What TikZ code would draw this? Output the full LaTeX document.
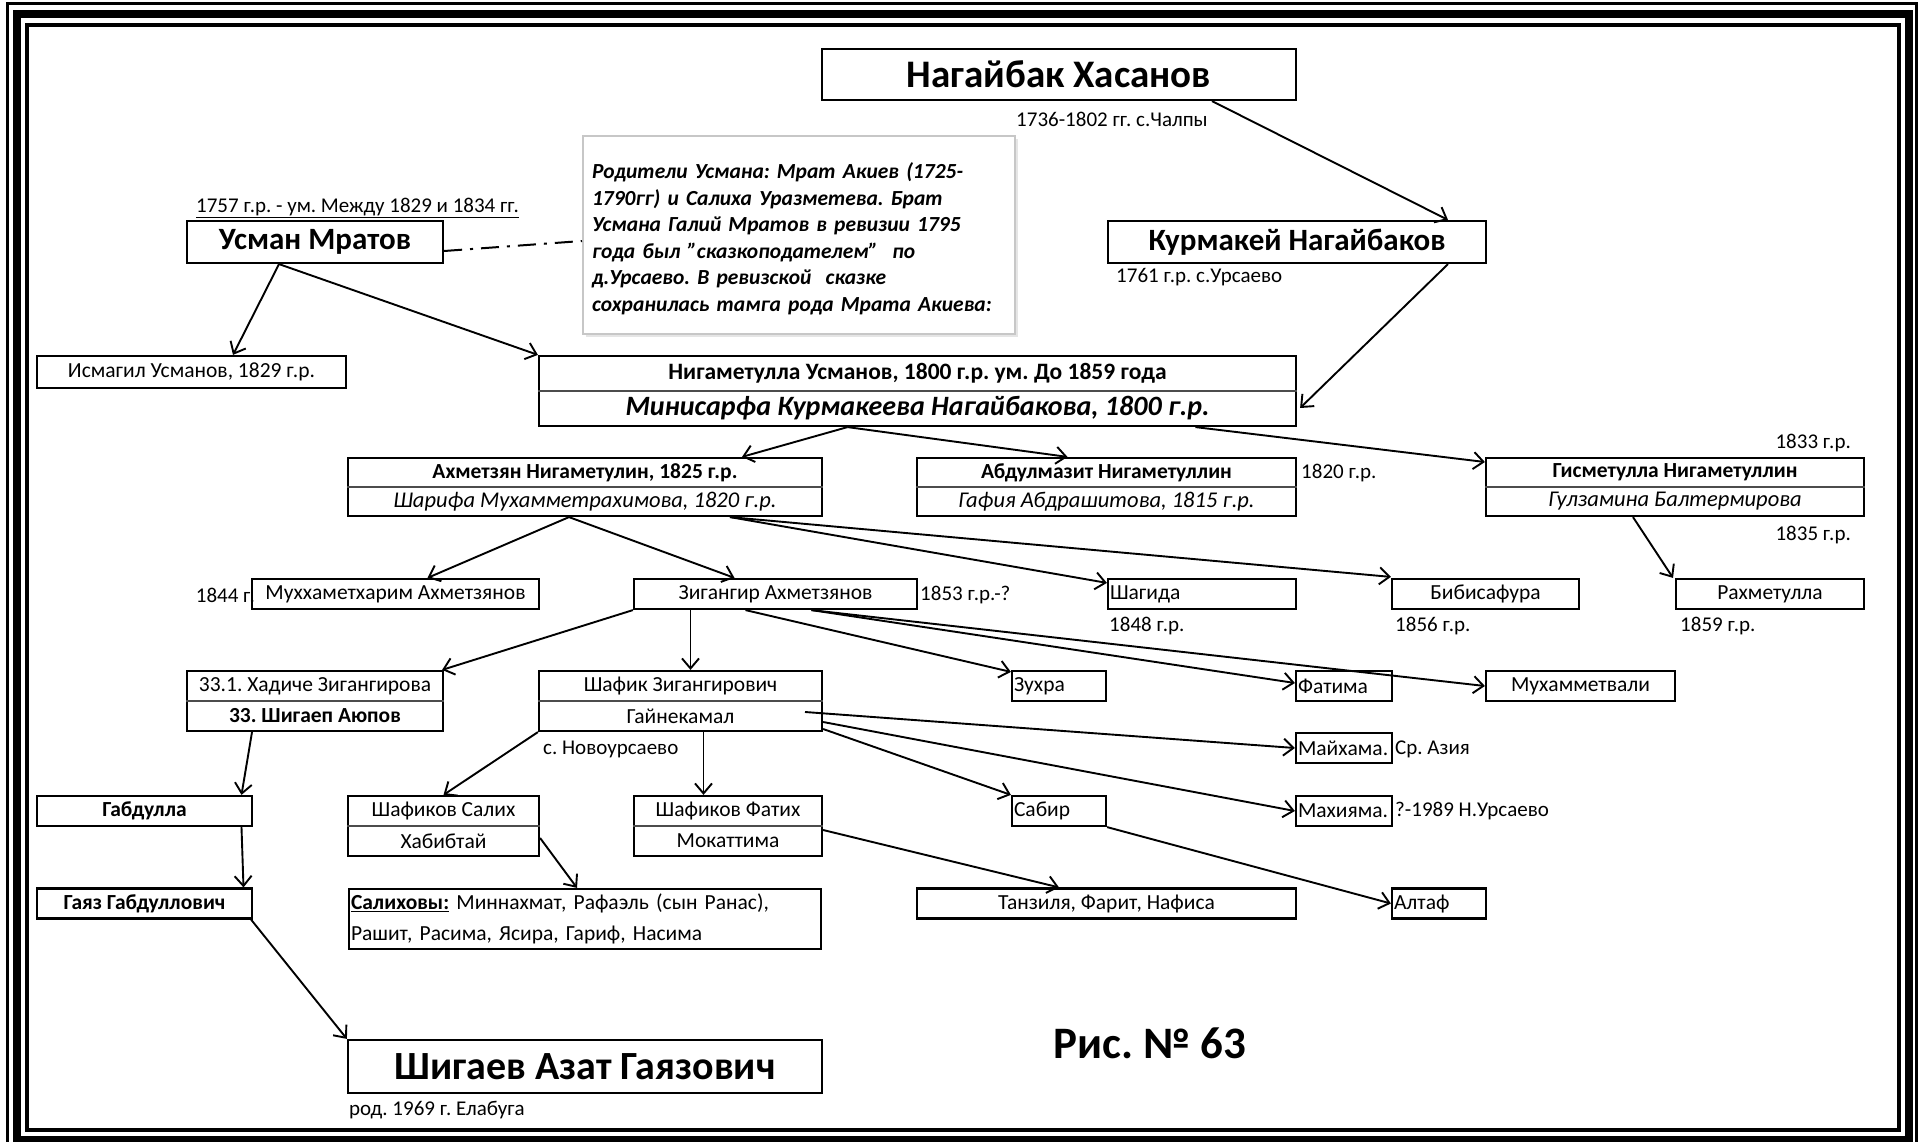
\documentclass[tikz,border=0pt]{standalone}
\usepackage{fontspec}
\setmainfont{Carlito}
\usetikzlibrary{positioning,arrows.meta,shadows}
\frenchspacing

\begin{document}
\begin{tikzpicture}[x=1pt,y=-1pt,
  box/.style={draw,line width=2.2pt,inner sep=0pt,font=\fontsize{21.5}{25}\selectfont},
  lbox/.style={box,align=left,inner xsep=2pt},
  divider/.style={line width=1.2pt,black!70},
  arr/.style={line width=1.9pt,-{Straight Barb[length=10pt,width=17pt]}},
  lab/.style={inner sep=0pt,font=\fontsize{21}{25}\selectfont},
  rowb/.style={inner sep=0pt,font=\fontsize{21.5}{25}\selectfont\bfseries},
  rowi/.style={inner sep=0pt,font=\fontsize{22.5}{26}\selectfont\itshape},
  rown/.style={inner sep=0pt,font=\fontsize{21.5}{25}\selectfont},
  big/.style={font=\fontsize{31}{36}\selectfont\bfseries}]

  \useasboundingbox (0,0) rectangle (1919,1142);
  % frame
  \draw[line width=3pt] (7,4) rectangle (1916.5,1150);
  \draw[line width=8pt] (17,14.5) rectangle (1908.5,1140);
  \draw[line width=4pt] (27,25) rectangle (1898.5,1130);

  % ancestors
  \node[box,minimum width=474,minimum height=51,font=\fontsize{39}{44}\selectfont\bfseries] (nagaybak) at (1059,74.5) {Нагайбак Хасанов};
  \node[lab,anchor=west] (nagaybak-yr) at (1016,119) {1736-1802 гг. с.Чалпы};
  \node[box,big,minimum width=378,minimum height=42] (kurmakey) at (1297,242) {Курмакей Нагайбаков};
  \node[lab,anchor=west] (kurmakey-yr) at (1116,277) {1761 г.р. с.Урсаево};
  \node[box,big,minimum width=256,minimum height=42] (usman) at (315,242) {Усман Мратов};
  \node[lab,anchor=west] (usman-yr) at (196,208) {\underline{1757 г.р. - ум. Между 1829 и 1834 гг.}};
  \node[draw=black!22,line width=2pt,fill=white,drop shadow={shadow xshift=3pt,shadow yshift=-3pt,fill=black!20},
        minimum width=432,minimum height=198] (note) at (799,235) {};
  \node[text width=414,inner sep=0pt,align=left,font=\fontsize{21.5}{26.5}\selectfont\bfseries\itshape]
    (note-text) at ([yshift=-4pt]note.center)
    {Родители Усмана: Мрат Акиев (1725-\\1790гг) и Салиха Уразметева. Брат\\Усмана Галий Мратов в ревизии 1795\\года был {\char34}сказкоподателем{\char34}~~по\\д.Урсаево. В ревизской~~сказке\\сохранилась тамга рода Мрата Акиева:};

  \node[box,minimum width=309,minimum height=32] (ismagil) at (191.5,372) {Исмагил Усманов, 1829 г.р.};
  \node[box,minimum width=757,minimum height=70] (nigam) at (917.5,391) {};
  \draw[divider] (nigam.west) -- (nigam.east);
  \node[rowb,font=\fontsize{23.5}{27}\selectfont\bfseries] (nigam-a) at ([yshift=17.5pt]nigam.center) {Нигаметулла Усманов, 1800 г.р. ум. До 1859 года};
  \node[rowb,font=\fontsize{28}{32}\selectfont\bfseries\itshape] (nigam-b) at ([yshift=-17.5pt]nigam.center) {Минисарфа Курмакеева Нагайбакова, 1800 г.р.};

  % sons of Nigametulla
  \node[box,minimum width=474,minimum height=58] (akhmet) at (585,487) {};
  \draw[divider] (akhmet.west) -- (akhmet.east);
  \node[rowb] (akhmet-a) at ([yshift=14.5pt]akhmet.center) {Ахметзян Нигаметулин, 1825 г.р.};
  \node[rowi] (akhmet-b) at ([yshift=-14.5pt]akhmet.center) {Шарифа Мухамметрахимова, 1820 г.р.};
  \node[box,minimum width=379,minimum height=58] (abdul) at (1106.5,487) {};
  \draw[divider] (abdul.west) -- (abdul.east);
  \node[rowb] (abdul-a) at ([yshift=14.5pt]abdul.center) {Абдулмазит Нигаметуллин};
  \node[rowi] (abdul-b) at ([yshift=-14.5pt]abdul.center) {Гафия Абдрашитова, 1815 г.р.};
  \node[lab,anchor=west] (abdul-yr) at (1301,473) {1820 г.р.};
  \node[box,minimum width=378,minimum height=58] (gismet) at (1675,487) {};
  \draw[divider] (gismet.west) -- (gismet.east);
  \node[rowb] (gismet-a) at ([yshift=14.5pt]gismet.center) {Гисметулла Нигаметуллин};
  \node[rowi] (gismet-b) at ([yshift=-14.5pt]gismet.center) {Гулзамина Балтермирова};
  \node[lab,anchor=east] (gismet-yr) at (1851,443) {1833 г.р.};
  \node[lab,anchor=east] (gismet-yr2) at (1851,535) {1835 г.р.};

  % grandchildren
  \node[box,minimum width=287,minimum height=30] (mukhkh) at (395.5,594) {Муххаметхарим Ахметзянов};
  \node[lab,anchor=east] (mukhkh-yr) at (255,595) {1844 г.};
  \node[box,minimum width=283,minimum height=30] (zigangir) at (775.5,594) {Зигангир Ахметзянов};
  \node[lab,anchor=west] (zigangir-yr) at (920,595) {1853 г.р.-?};
  \node[lbox,text width=184,minimum height=30] (shagida) at (1202,594) {Шагида};
  \node[lab,anchor=west] (shagida-yr) at (1109,626) {1848 г.р.};
  \node[box,minimum width=187,minimum height=30] (bibi) at (1485.5,594) {Бибисафура};
  \node[lab,anchor=west] (bibi-yr) at (1395,626) {1856 г.р.};
  \node[box,minimum width=188,minimum height=30] (rakhmet) at (1770,594) {Рахметулла};
  \node[lab,anchor=west] (rakhmet-yr) at (1680,626) {1859 г.р.};

  % children of Zigangir
  \node[box,minimum width=256,minimum height=60] (khadiche) at (315,701) {};
  \draw[divider] (khadiche.west) -- (khadiche.east);
  \node[rown] (khadiche-a) at ([yshift=15pt]khadiche.center) {33.1. Хадиче Зигангирова};
  \node[rowb] (khadiche-b) at ([yshift=-15pt]khadiche.center) {33. Шигаеп Аюпов};
  \node[box,minimum width=283,minimum height=60] (shafik) at (680.5,701) {};
  \draw[divider] (shafik.west) -- (shafik.east);
  \node[rown] (shafik-a) at ([yshift=15pt]shafik.center) {Шафик Зигангирович};
  \node[rown] (shafik-b) at ([yshift=-15pt]shafik.center) {Гайнекамал};
  \node[lab,anchor=west] (shafik-yr) at (543,749) {с. Новоурсаево};
  \node[lbox,text width=90,minimum height=30] (zukhra) at (1059,686) {Зухра};
  \node[lbox,text width=92,minimum height=30] (fatima) at (1344,686) {Фатима};
  \node[box,minimum width=189,minimum height=30] (mukhval) at (1580.5,686) {Мухамметвали};
  \node[lbox,text width=92,minimum height=30] (maykhama) at (1344,748) {Майхама.};
  \node[lab,anchor=west] (maykhama-yr) at (1395,749) {Ср. Азия};
  \node[lbox,text width=92,minimum height=30] (makhiyama) at (1344,811) {Махияма.};
  \node[lab,anchor=west] (makhiyama-yr) at (1395,811) {?-1989 Н.Урсаево};

  % next generation
  \node[box,minimum width=215,minimum height=30,font=\fontsize{21.5}{25}\selectfont\bfseries] (gabdulla) at (144.5,811) {Габдулла};
  \node[box,minimum width=191,minimum height=60] (salikh) at (443.5,826) {};
  \draw[divider] (salikh.west) -- (salikh.east);
  \node[rown] (salikh-a) at ([yshift=15pt]salikh.center) {Шафиков Салих};
  \node[rown] (salikh-b) at ([yshift=-15pt]salikh.center) {Хабибтай};
  \node[box,minimum width=188,minimum height=60] (fatikh) at (728,826) {};
  \draw[divider] (fatikh.west) -- (fatikh.east);
  \node[rown] (fatikh-a) at ([yshift=15pt]fatikh.center) {Шафиков Фатих};
  \node[rown] (fatikh-b) at ([yshift=-15pt]fatikh.center) {Мокаттима};
  \node[lbox,text width=90,minimum height=30] (sabir) at (1059,811) {Сабир};

  \node[box,minimum width=215,minimum height=30,font=\fontsize{21.5}{25}\selectfont\bfseries] (gayaz) at (144.5,903.5) {Гаяз Габдуллович};
  \node[lbox,text width=468,minimum height=60,font=\fontsize{21.5}{31}\selectfont] (salikhovy) at (585,919)
    {\textbf{\underline{Салиховы:}} Миннахмат, Рафаэль (сын Ранас),\\Рашит, Расима, Ясира, Гариф, Насима};
  \node[box,minimum width=379,minimum height=30] (tanzilya) at (1106.5,903.5) {Танзиля, Фарит, Нафиса};
  \node[lbox,text width=90,minimum height=30] (altaf) at (1439,903.5) {Алтаф};

  \node[box,minimum width=474,minimum height=53,font=\fontsize{40}{46}\selectfont\bfseries] (shigaev) at (585,1066.5) {Шигаев Азат Гаязович};
  \node[lab,anchor=west] (shigaev-yr) at (349,1110) {род. 1969 г. Елабуга};
  \node[inner sep=0pt,font=\fontsize{45}{52}\selectfont\bfseries] (fig) at (1150,1043) {Рис. № 63};

  % connectors
  \draw[line width=2pt,dash pattern=on 18pt off 8pt on 3pt off 8pt] ([yshift=-9pt]usman.east) -- ([yshift=-6pt]note.west);
  \path[arr]
    ([xshift=153pt]nagaybak.south) edge ([xshift=151pt]kurmakey.north)
    ([xshift=151pt]kurmakey.south) edge ([yshift=-17pt,xshift=3pt]nigam.east)
    ([xshift=-36pt]usman.south) edge ([xshift=41.5pt]ismagil.north)
    ([xshift=-36pt]usman.south) edge (nigam.north west)
    ([xshift=-70pt]nigam.south) edge ([xshift=157pt]akhmet.north)
    ([xshift=-70pt]nigam.south) edge ([xshift=-39pt]abdul.north)
    ([xshift=278pt]nigam.south) edge ([yshift=25pt]gismet.west)
    ([xshift=-16pt]akhmet.south) edge ([xshift=32pt]mukhkh.north)
    ([xshift=-16pt]akhmet.south) edge ([xshift=-41pt]zigangir.north)
    ([xshift=145pt]akhmet.south) edge ([yshift=-5pt]shagida.north west)
    ([xshift=145pt]akhmet.south) edge ([yshift=1pt]bibi.north west)
    ([xshift=-42pt]gismet.south) edge ([xshift=-97pt]rakhmet.north)
    (zigangir.south west) edge ([xshift=-2pt]khadiche.north east)
    ([xshift=-85pt]zigangir.south) edge ([xshift=10pt]shafik.north)
    ([xshift=-30pt]zigangir.south) edge ([yshift=-2pt]zukhra.north west)
    ([xshift=36pt]zigangir.south) edge ([yshift=3pt]fatima.west)
    ([xshift=36pt]zigangir.south) edge (mukhval.west)
    ([xshift=124.5pt,yshift=-11pt]shafik.center) edge (maykhama.west)
    ([yshift=-21pt]shafik.east) edge (makhiyama.west)
    ([yshift=-28pt]shafik.east) edge (sabir.north west)
    (shafik.south west) edge (salikh.north)
    ([xshift=23pt]shafik.south) edge ([xshift=-24.5pt]fatikh.north)
    ([xshift=-63pt]khadiche.south) edge ([xshift=97pt]gabdulla.north)
    ([xshift=97pt]gabdulla.south) edge ([xshift=99pt]gayaz.north)
    ([xshift=-2pt]gayaz.south east) edge (shigaev.north west)
    ([yshift=-12pt]salikh.east) edge ([xshift=-8pt]salikhovy.north)
    ([yshift=-4pt]fatikh.east) edge ([xshift=-47.5pt]tanzilya.north)
    (sabir.south east) edge (altaf.west);
\end{tikzpicture}
\end{document}
